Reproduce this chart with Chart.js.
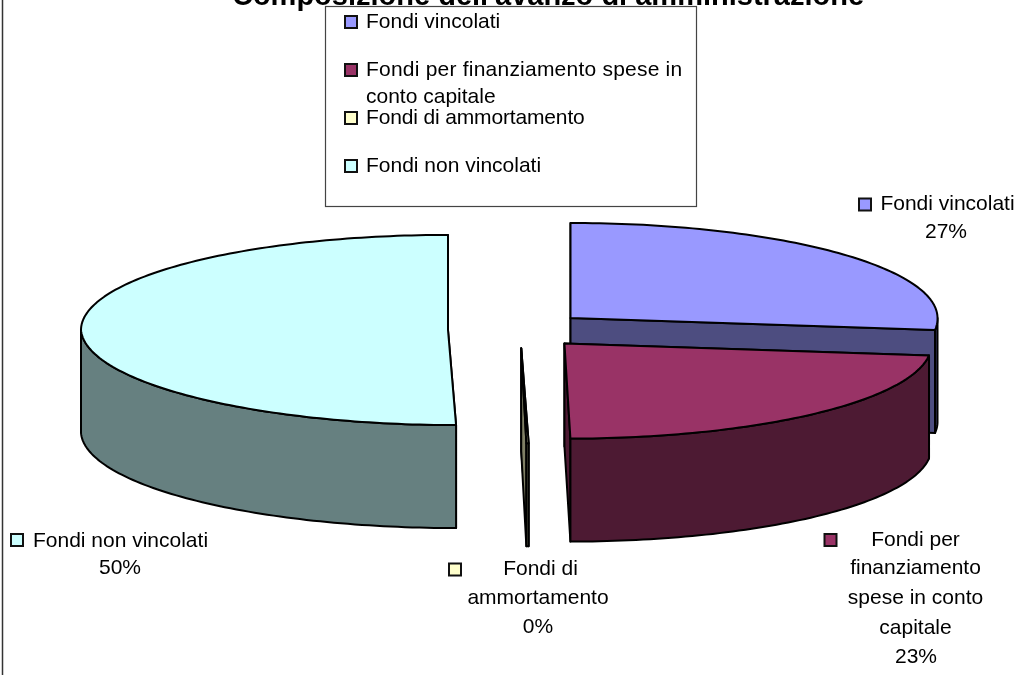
<!DOCTYPE html>
<html>

<head>
    <meta charset='utf-8'>
    <title>Composizione dell'avanzo di amministrazione</title>
    <script src="https://cdn.jsdelivr.net/npm/chart.js@4/dist/chart.umd.min.js"></script>
    <style>
        html, body { margin: 0; padding: 0; background: #fff; }
        #wrap { position: relative; width: 1025px; height: 675px; }
    </style>
</head>

<body>
    <div id="wrap"><canvas id="myChart" width="1025" height="675"></canvas></div>
    <script>
        const chartTitle = "Composizione dell'avanzo di amministrazione";
        const categories = ['Fondi vincolati', 'Fondi per finanziamento spese in conto capitale', 'Fondi di ammortamento', 'Fondi non vincolati'];
        // 0% slice is still a hair wide in the picture
        const values = [27, 22.9, 0.1, 50];
        const percentLabels = ['27%', '23%', '0%', '50%'];

        const topColors = ['#9999FF', '#993366', '#FFFFCC', '#CCFFFF'];
        const sideColors = ['#4D4D80', '#4D1A33', '#808066', '#668080'];

        const explode = 70;      // how far every slice is pulled out
        const tilt = 0.259;      // squash of the pie
        const depth = 103;       // height of the walls
        const sliceLean = [0.01, 0.01, 0.014, 0.022]; // near half leans right, more on the left of the picture
        const sliceNudge = [0, 0, 3, 0];
        const drawOrder = [0, 3, 2, 1];

        const legendRows = [
            { text: 'Fondi vincolati', y: 28, marker: 0 },
            { text: 'Fondi per finanziamento spese in', y: 76, marker: 1, spacing: 0.22 },
            { text: 'conto capitale', y: 103 },
            { text: 'Fondi di ammortamento', y: 124, marker: 2, spacing: -0.15 },
            { text: 'Fondi non vincolati', y: 172, marker: 3 }
        ];
        const dataLabels = [
            { marker: 0, mx: 865, my: 204.5, lines: [[categories[0], 947.5, 210], [percentLabels[0], 946, 238]] },
            { marker: 1, mx: 830.5, my: 540, lines: [['Fondi per', 915.5, 546], ['finanziamento', 915.5, 574], ['spese in conto', 915.5, 604], ['capitale', 915.5, 634], [percentLabels[1], 916, 663]] },
            { marker: 2, mx: 455, my: 569.5, lines: [['Fondi di', 540.5, 575], ['ammortamento', 538, 604], [percentLabels[2], 538, 633]] },
            { marker: 3, mx: 17, my: 540, lines: [[categories[3], 120.5, 547], [percentLabels[3], 120, 574]] }
        ];

        const labelFont = '21px "Liberation Sans", Arial, sans-serif';

        function apexOf(arc, i) {
            const mid = (arc.startAngle + arc.endAngle) / 2;
            return { dx: Math.cos(mid) * explode + sliceNudge[i], dy: Math.sin(mid) * explode };
        }

        function project(arc, i, angle, radius, drop) {
            const a = apexOf(arc, i);
            const rel = radius * Math.sin(angle);
            return [
                arc.x + a.dx + radius * Math.cos(angle) + sliceLean[i] * Math.max(rel, 0),
                arc.y + a.dy * tilt + rel * tilt + drop
            ];
        }

        function tracePoly(ctx, pts, fill) {
            ctx.beginPath();
            pts.forEach((p, n) => n ? ctx.lineTo(p[0], p[1]) : ctx.moveTo(p[0], p[1]));
            ctx.closePath();
            if (fill) {
                ctx.fillStyle = fill;
                ctx.fill();
            }
            ctx.stroke();
        }

        function arcPoints(arc, i, from, to, drop) {
            const pts = [];
            const steps = Math.max(2, Math.ceil(Math.abs(to - from) / 0.02));
            for (let n = 0; n <= steps; n++) {
                pts.push(project(arc, i, from + (to - from) * n / steps, arc.outerRadius, drop));
            }
            return pts;
        }

        function drawCutFace(ctx, arc, i, angle) {
            tracePoly(ctx, [
                project(arc, i, angle, 0, 0),
                project(arc, i, angle, arc.outerRadius, 0),
                project(arc, i, angle, arc.outerRadius, depth),
                project(arc, i, angle, 0, depth)
            ], sideColors[i]);
        }

        function drawWall(ctx, arc, i) {
            // only the part of the rim that faces the viewer, canvas angles 0..PI
            const from = Math.max(arc.startAngle, 0);
            const to = Math.min(arc.endAngle, Math.PI);
            if (to <= from) return;
            const pts = arcPoints(arc, i, from, to, 0).concat(arcPoints(arc, i, to, from, depth));
            tracePoly(ctx, pts, sideColors[i]);
        }

        function drawTop(ctx, arc, i, chart) {
            const a = apexOf(arc, i);
            const screenY = arc.y + a.dy * tilt;
            // back half and front half lean differently, so the slice goes through arc.draw twice
            [[0, 0, screenY + 1], [sliceLean[i], screenY, chart.height]].forEach(([lean, y0, y1]) => {
                ctx.save();
                ctx.beginPath();
                ctx.rect(-200, y0, chart.width + 400, y1 - y0);
                ctx.clip();
                ctx.transform(1, 0, lean, tilt, a.dx - lean * arc.y, screenY - tilt * arc.y);
                arc.draw(ctx);
                ctx.restore();
            });
            const rim = arcPoints(arc, i, arc.startAngle, arc.endAngle, 0);
            tracePoly(ctx, [project(arc, i, arc.startAngle, 0, 0)].concat(rim), null);
        }

        function drawMarker(ctx, i, cx, cy) {
            ctx.fillStyle = topColors[i];
            ctx.strokeStyle = '#111';
            ctx.lineWidth = 2;
            ctx.fillRect(cx - 6, cy - 6, 12, 12);
            ctx.strokeRect(cx - 6, cy - 6, 12, 12);
        }

        const pie3d = {
            id: 'pie3d',
            beforeDatasetsDraw(chart) {
                const ctx = chart.ctx;
                const arcs = chart.getDatasetMeta(0).data;
                ctx.save();
                ctx.strokeStyle = '#000';
                ctx.lineWidth = 2;
                ctx.lineJoin = 'round';
                drawOrder.forEach(i => {
                    const arc = arcs[i];
                    drawCutFace(ctx, arc, i, arc.startAngle);
                    drawCutFace(ctx, arc, i, arc.endAngle);
                    drawWall(ctx, arc, i);
                    drawTop(ctx, arc, i, chart);
                });
                ctx.restore();
                return false;
            },
            afterDraw(chart) {
                const ctx = chart.ctx;
                ctx.save();
                // frame, only the left side is inside the picture
                ctx.strokeStyle = '#333';
                ctx.lineWidth = 1.5;
                ctx.beginPath();
                ctx.moveTo(2.5, 0);
                ctx.lineTo(2.5, chart.height);
                ctx.stroke();

                ctx.fillStyle = '#000';
                ctx.font = 'bold 29px "Liberation Sans", Arial, sans-serif';
                ctx.textAlign = 'center';
                ctx.textBaseline = 'alphabetic';
                ctx.fillText(chartTitle, 548, 5);

                // legend box sits on top of the title
                ctx.fillStyle = '#fff';
                ctx.fillRect(325, 6, 372, 201);
                ctx.strokeStyle = '#444';
                ctx.lineWidth = 1.2;
                ctx.strokeRect(325.5, 6.5, 371, 200);

                ctx.font = labelFont;
                ctx.textAlign = 'left';
                legendRows.forEach(r => {
                    if (r.marker !== undefined) drawMarker(ctx, r.marker, 351, r.y - 6);
                    ctx.fillStyle = '#000';
                    ctx.letterSpacing = (r.spacing || 0) + 'px';
                    ctx.fillText(r.text, 366, r.y);
                });
                ctx.letterSpacing = '0px';

                ctx.textAlign = 'center';
                dataLabels.forEach(l => {
                    drawMarker(ctx, l.marker, l.mx, l.my);
                    ctx.fillStyle = '#000';
                    l.lines.forEach(([t, x, y]) => ctx.fillText(t, x, y));
                });
                ctx.restore();
            }
        };

        const ctx = document.getElementById('myChart').getContext('2d');
        const myChart = new Chart(ctx, {
            type: 'pie',
            data: {
                labels: categories,
                datasets: [{
                    data: values,
                    backgroundColor: topColors,
                    borderWidth: 0,
                    radius: 367
                }]
            },
            options: {
                responsive: false,
                animation: false,
                events: [],
                layout: { padding: { left: 11, bottom: 15 } },
                plugins: {
                    legend: { display: false },
                    title: { display: false },
                    tooltip: { enabled: false }
                }
            },
            plugins: [pie3d]
        });
    </script>
</body>

</html>
